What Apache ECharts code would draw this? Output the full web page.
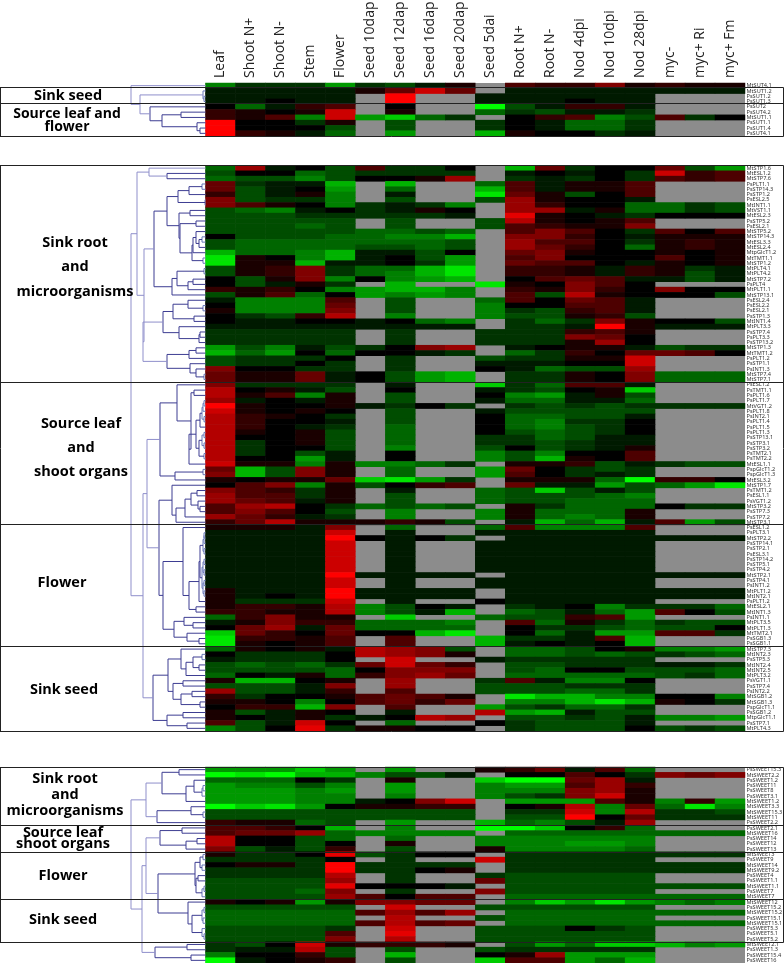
<!DOCTYPE html>
<html><head><meta charset="utf-8">
<style>html,body{margin:0;padding:0;background:#fff}#c{width:784px;height:963px}</style>
<script src="https://cdn.jsdelivr.net/npm/echarts@6/dist/echarts.min.js"></script>
</head><body><div id="c"></div>
<script>
const G = null;
const conditions = ['Leaf','Shoot N+','Shoot N-','Stem','Flower','Seed 10dap','Seed 12dap','Seed 16dap','Seed 20dap','Seed 5dai','Root N+','Root N-','Nod 4dpi','Nod 10dpi','Nod 28dpi','myc-','myc+ Ri','myc+ Fm'];

const sugarLabels = ['MtSUT4.1','MtSUT1.2','PsSUT1.2','PsSUT1.3','PsSUT2','PsSUT4.2','MtSUT1.1','PsSUT1.1','PsSUT1.4','PsSUT4.1'];
const sugarRows = [
[-5,-2,-2,-2,-6,-2,-3,-1,1,G,3,2,2,5,1,2,1,1],
[-1,-1,-1,-1,-1,1,4,8,4,G,-1,-1,-1,-1,-1,-1,-1,-1],
[-1,-1,-1,-1,-1,G,10,G,G,-1,-1,-1,-1,-1,-1,G,G,G],
[-1,-1,0,-1,-1,G,10,G,G,-1,-1,-1,0,-1,-1,G,G,G],
[0,-4,-1,2,3,G,0,G,G,-10,-3,-1,2,2,-1,G,G,G],
[2,1,0,1,8,G,1,G,G,-4,-2,-3,-1,-1,-2,G,G,G],
[2,1,3,-5,8,-6,-8,-4,-2,G,0,2,3,-5,-3,3,-2,0],
[10,0,0,-2,1,G,-3,G,G,-2,0,-1,-4,-4,-2,G,G,G],
[10,0,0,0,-3,G,-3,G,G,-2,0,-1,-4,-4,-2,G,G,G],
[10,2,1,-1,-4,G,-6,G,G,-7,1,0,0,-2,-1,G,G,G]
];

const mstLabels = ['MtSTP1.6','MtESL1.2','MtSTP7.6','PsPLT1.1','PsSTP14.3','PsSTP1.2','PsESL2.5','MtINT1.1','MtVST1.1','MtESL2.3','PsSTP5.2','PsESL2.1','MtSTP5.2','MtSTP14.3','MtESL3.3','MtESL2.4','MtpGlcT1.2','MtTMT1.1','MtSTP1.2','MtPLT4.1','MtPLT4.2','MtSTP7.2','PsPLT4','MtPLT1.1','MtSTP13.1','PsESL2.4','PsESL2.2','PsESL2.1','PsSTP1.3','MtINT1.4','MtPLT3.3','PsSTP7.4','PsPLT3.3','PsSTP13.2','MtSTP1.3','MtTMT1.2','PsPLT1.2','PsSTP1.1','PsINT1.3','MtSTP7.4','MtSTP7.1',
'PsESL1.2','PsTMT1.1','PsPLT1.6','PsPLT1.7','MtVGT1.2','PsPLT1.8','PsINT2.1','PsPLT1.4','PsPLT1.5','PsPLT1.3','PsSTP13.1','PsSTP3.1','PsSTP3.2','PsTMT2.1','PsTMT2.2','MtESL1.1','PspGlcT1.2','PspGlcT1.3','MtESL3.2','MtSTP1.7','PsTMT1.2','PsESL1.1','PsVGT1.2','MtSTP3.2','PsSTP7.3','PsSTP7.2','MtSTP3.1',
'PsESL1.2','PsPLT3.1','MtSTP2.2','PsSTP14.1','PsSTP2.1','PsESL3.1','PsSTP14.2','PsSTP5.1','PsSTP4.2','MtSTP2.1','PsSTP4.1','PsINT1.2','MtPLT1.2','MtINT2.1','PsPLT1.2','MtESL2.1','MtINT1.3','PsINT1.1','MtPLT3.5','MtPLT1.3','MtTMT2.1','PsSGB1.3','PsSGB1.1',
'MtSTP7.3','MtINT2.3','PsSTP5.3','MtINT2.4','MtINT2.5','MtPLT3.2','PsVGT1.1','PsSTP7.4','PsINT2.2','MtSGB1.2','MtSGB1.3','PspGlcT1.1','PsSGB1.2','MtpGlcT1.1','PsSTP7.1','MtPLT4.3'];
const mstRows = [
[-4,6,-1,0,-3,3,-2,-2,0,G,-7,4,-2,0,0,4,-3,-6],
[-3,0,0,-4,-3,-2,-2,-2,-2,G,-1,0,-1,0,-2,8,2,3],
[-4,-3,-3,-5,-3,0,0,1,6,G,-2,-1,-2,0,-2,3,2,3],
[4,-2,-1,-1,-7,G,-7,G,G,-4,3,-1,1,1,3,G,G,G],
[4,-3,-1,0,-6,G,-4,G,G,-7,3,-1,1,1,3,G,G,G],
[2,-3,-1,1,-5,G,-1,G,G,-9,4,1,-3,0,3,G,G,G],
[5,-3,-2,-2,-5,G,-3,G,G,-3,6,1,0,0,-1,G,G,G],
[5,3,1,0,-5,-2,-1,-2,-5,G,6,2,0,0,-4,-4,-2,-3],
[-3,-4,-5,-1,0,-2,-1,1,0,G,6,6,-1,1,-4,-4,-2,-3],
[-3,-3,-3,-2,-2,-2,-2,-2,-1,G,9,1,0,-1,-2,0,0,0],
[-3,-3,-3,-3,-3,G,-3,G,G,-3,7,1,0,1,3,G,G,G],
[-3,-3,-3,-4,-3,G,-3,G,G,-3,3,2,1,1,5,G,G,G],
[-3,-3,-3,-3,-3,-4,-4,-3,-4,G,3,5,3,0,-2,3,0,3],
[0,-3,-3,-3,-4,-4,-5,-5,-7,G,5,5,2,0,-1,1,1,1],
[-3,-4,-4,-4,-4,-4,-4,-4,-3,G,6,3,3,0,-2,1,2,1],
[-3,-4,-4,-4,-4,-3,-3,-4,-3,G,6,4,2,0,-4,1,2,1],
[-7,-4,-4,-5,-7,-1,-1,-3,0,G,4,5,1,0,0,1,0,1],
[-9,1,0,-5,-7,-1,0,-3,-6,G,3,5,0,0,0,3,0,1],
[-9,1,1,-7,-1,-1,0,-2,-6,G,4,3,3,0,-1,1,0,1],
[-3,1,2,5,-2,-4,-4,-7,-9,G,2,2,1,-1,2,1,-2,-1],
[-3,1,2,5,-2,-4,-5,-7,-9,G,2,2,1,-1,2,1,-3,-1],
[0,-3,1,5,-5,0,-5,-6,-7,G,0,3,4,3,-1,-1,-3,-1],
[0,-3,-1,1,-2,G,-7,G,G,-9,1,0,5,3,0,G,G,G],
[2,1,2,0,-5,-6,-7,-7,-5,G,2,1,5,2,0,5,0,0],
[-3,1,3,-4,0,-6,-5,-6,-5,G,3,-3,7,1,0,0,0,-3],
[-1,-5,-5,-5,3,G,-3,G,G,-4,3,0,4,3,-1,G,G,G],
[0,-5,-5,-5,4,G,-3,G,G,-5,0,0,3,3,-1,G,G,G],
[1,-5,-5,-5,5,G,-3,G,G,-5,-2,-3,2,3,-1,G,G,G],
[0,-2,-3,2,7,G,-5,G,G,-5,-3,-3,1,2,-3,G,G,G],
[0,-1,-1,0,0,-1,0,-4,-5,G,-2,-4,-2,5,1,0,0,-3],
[-1,-1,-1,-1,-1,-1,-1,-1,-1,G,-2,-2,-1,10,1,-1,-1,-1],
[-2,-2,-2,-2,-2,G,-2,G,G,-2,-2,-2,2,3,1,G,G,G],
[-2,-2,-2,-2,-2,G,-2,G,G,-2,-2,-2,5,4,0,G,G,G],
[-2,-2,-2,-2,-2,G,-2,G,G,-2,-2,-2,1,6,0,G,G,G],
[-6,-3,-5,-1,-3,-2,0,5,6,G,-1,0,1,1,-1,-3,-2,-2],
[-7,-4,-6,0,-4,0,0,-1,-2,G,-4,-2,2,0,4,4,3,0],
[-3,-2,-2,-2,0,G,-2,G,G,-3,-2,-2,1,1,8,G,G,G],
[-3,-2,-2,0,-2,G,-2,G,G,-1,-1,-1,0,0,8,G,G,G],
[5,0,0,-2,-2,G,-2,G,G,0,-1,-4,-3,-3,6,G,G,G],
[4,1,1,4,-1,0,-3,-6,-7,G,-2,-2,1,0,5,-4,-4,-4],
[4,1,1,4,-1,0,-3,-6,-7,G,-2,-2,1,0,5,-4,-4,-4],
[5,-2,-2,-2,-2,G,-1,G,G,-8,-2,-4,3,3,-1,G,G,G],
[7,0,1,-1,-3,G,0,G,G,-1,-2,-3,0,1,-8,G,G,G],
[7,1,3,-5,1,G,-3,G,G,0,-5,-6,-1,1,-3,G,G,G],
[6,-1,0,-1,1,G,-3,G,G,-1,-4,-4,-1,-1,-4,G,G,G],
[10,1,0,0,1,-1,-2,0,-2,G,-2,-3,-2,-3,-2,-2,-2,-2],
[8,1,0,1,0,G,-3,G,G,-1,-3,-3,-3,-3,-3,G,G,G],
[7,2,1,0,-2,G,-3,G,G,0,-4,-4,-3,-3,-1,G,G,G],
[7,2,0,0,-1,G,-3,G,G,0,-4,-5,-2,-2,0,G,G,G],
[7,2,0,-1,-2,G,-4,G,G,0,-4,-5,-3,-2,0,G,G,G],
[7,1,0,1,-3,G,-4,G,G,0,-3,-4,-3,-2,0,G,G,G],
[7,0,0,1,-3,G,-4,G,G,-2,-2,-4,-3,-1,-1,G,G,G],
[7,-2,0,1,-3,G,-4,G,G,-2,-2,-3,-2,-1,-1,G,G,G],
[7,-2,0,0,-3,G,-5,G,G,-3,0,-3,-2,-1,1,G,G,G],
[7,-2,0,-3,-1,G,0,G,G,-5,-3,-5,0,0,3,G,G,G],
[7,0,0,-6,-1,G,0,G,G,-5,-3,-7,1,0,3,G,G,G],
[8,1,1,-5,1,-5,-5,-4,-2,G,1,1,2,-3,-1,-2,-3,-3],
[4,-7,-3,5,1,G,-4,G,G,-6,4,0,-2,-3,-2,G,G,G],
[5,-7,-3,5,1,G,-4,G,G,-6,3,0,-2,-1,-2,G,G,G],
[1,0,1,1,4,-8,-9,-6,-2,G,1,1,1,-4,-10,2,2,0],
[0,3,5,-5,1,-3,0,2,3,G,4,-1,-1,-6,-3,-4,-6,-9],
[5,3,2,-2,1,G,-1,G,G,-4,-3,-8,-3,-1,-3,G,G,G],
[6,3,3,-2,1,G,-3,G,G,-4,-3,-3,-3,-4,-5,G,G,G],
[6,4,3,-1,1,G,-3,G,G,-4,-3,-3,-4,-4,-4,G,G,G],
[3,6,7,0,-2,-4,-3,-4,-3,G,1,-2,-4,-4,-4,0,-2,-2],
[3,5,3,0,-3,G,-5,G,G,-5,1,-4,-4,-4,1,G,G,G],
[6,4,2,-1,-2,G,-5,G,G,-5,1,-4,-5,-4,1,G,G,G],
[2,4,7,1,1,1,2,1,-3,G,-1,-7,-4,-7,-1,3,-6,-3],
[1,1,1,-1,5,G,-4,G,G,-4,3,-5,-5,-5,3,G,G,G],
[-1,-1,-1,-1,8,G,-1,G,G,-1,-1,-1,-1,-1,-1,G,G,G],
[-1,-1,-1,-1,10,0,-1,0,-2,G,-1,-1,-1,-1,-1,-1,-1,-1],
[-1,-1,-1,-1,8,G,-1,G,G,-1,-1,-1,-1,-1,-1,G,G,G],
[-1,-1,-1,-1,8,G,-1,G,G,-1,-1,-1,-1,-1,-1,G,G,G],
[-1,-1,-1,-1,8,G,-1,G,G,-1,-1,-1,-1,-1,-1,G,G,G],
[-1,-1,-1,-1,8,G,-1,G,G,-1,-1,-1,-1,-1,-1,G,G,G],
[-1,-1,-1,-1,8,G,-1,G,G,-1,-1,-1,-1,-1,-1,G,G,G],
[-1,-1,-1,-1,8,G,-1,G,G,-1,-1,-1,-1,-1,-1,G,G,G],
[-1,-1,-1,-1,10,-1,-1,-1,-1,G,-1,-1,-1,-1,-1,-1,-1,-1],
[-1,-1,-1,-1,8,G,-1,G,G,-1,-1,-1,-1,-1,-1,G,G,G],
[-1,-1,-1,-1,8,G,-1,G,G,-1,-1,-1,-1,-1,-1,G,G,G],
[1,-1,-1,-1,10,-1,-1,-1,-1,G,-1,-1,-1,-1,-1,-1,-1,-1],
[1,-1,0,-1,10,-1,-1,-1,-1,G,-1,-1,-1,-1,-1,-1,-1,-1],
[1,-2,-2,-2,8,G,-1,G,G,0,-1,-1,-1,-1,-1,G,G,G],
[1,2,2,1,7,-5,-3,0,-1,G,-2,-1,0,-5,-2,-2,-2,-4],
[2,2,1,1,7,-5,-3,-1,-7,G,-4,-3,-1,-4,-6,3,0,-3],
[-4,2,5,1,1,G,-8,G,G,-4,-3,-3,2,3,-6,G,G,G],
[-1,1,5,2,2,-4,-4,-4,-5,G,3,-4,1,-2,-4,-2,-3,-3],
[0,4,6,-1,4,-4,-4,-4,-4,G,0,-2,-2,-3,-4,-3,-3,0],
[-8,4,2,0,4,0,0,-7,-9,G,0,-4,-1,-6,-6,3,3,-2],
[-9,2,2,1,3,G,3,G,G,-7,-2,-2,-1,3,-7,G,G,G],
[-9,1,0,1,3,G,3,G,G,-7,-1,0,-1,0,-7,G,G,G],
[-4,1,0,1,-1,7,6,5,-3,G,-4,-4,-3,0,1,-5,-5,-6],
[0,-2,-2,-2,0,7,6,5,1,G,-4,-4,-3,-4,-3,-2,-3,-4],
[-1,-2,-2,-2,0,G,8,G,G,-1,-2,-2,-2,-2,-2,G,G,G],
[-3,-4,-3,-4,-2,4,8,4,2,G,-3,-3,-2,-2,-2,-1,-1,-2],
[-3,-3,-3,-3,-4,0,5,5,5,G,-3,-4,0,0,-3,-3,-3,-4],
[-4,0,-1,1,-4,2,5,6,4,G,-4,-4,-4,-4,-4,-3,-2,-4],
[1,-7,-7,0,1,G,6,G,G,-2,3,-1,-5,-5,0,G,G,G],
[-3,-3,-3,-1,5,G,6,G,G,-3,-3,-3,-2,-2,-2,G,G,G],
[6,-3,-3,-1,2,G,3,G,G,-3,-3,-3,-4,-4,-2,G,G,G],
[2,-2,0,0,1,3,4,3,1,G,-9,-7,-7,-5,-5,0,0,-5],
[1,1,0,-5,0,3,4,2,4,G,-5,-5,-7,-9,-7,1,0,-2],
[0,2,2,-7,5,G,3,G,G,-6,-3,-2,-4,-4,-2,G,G,G],
[1,-3,-1,1,0,G,-1,G,G,7,-6,-7,-1,-3,-3,G,G,G],
[1,0,-1,1,-2,-1,0,7,6,G,-3,-3,-2,-3,-1,-5,-5,-6],
[3,-3,-1,8,0,G,-4,G,G,0,-2,-3,-3,-3,-1,G,G,G],
[-5,-3,0,9,-2,1,1,0,0,G,-2,-3,-3,-3,0,-3,-2,-3]
];

const sweetLabels = ['PsSWEET15.3','MtSWEET2.2','PsSWEET1.2','PsSWEET11','PsSWEET8','PsSWEET3.1','MtSWEET1.2','MtSWEET3.3','MtSWEET15.3','MtSWEET11','PsSWEET2.2','PsSWEET2.1','MtSWEET16','PsSWEET14','PsSWEET12','PsSWEET13','MtSWEET3','PsSWEET9','MtSWEET14','MtSWEET9.2','PsSWEET4','PsSWEET1.1','MtSWEET1.1','PsSWEET7','MtSWEET7','MtSWEET12','PsSWEET15.2','MtSWEET15.2','PsSWEET15.1','MtSWEET15.1','PsSWEET5.3','PsSWEET5.1','PsSWEET5.2','MtSWEET2.1','PsSWEET1.3','PsSWEET15.4','PsSWEET16'];
const sweetRows = [
[-6,-6,-6,-8,-6,G,-6,G,G,1,2,4,-1,3,-4,G,G,G],
[-10,-9,-10,-7,-7,-5,-3,-3,-1,G,0,0,3,0,-2,5,4,5],
[-4,-4,-4,0,-2,G,1,G,G,-8,-10,-10,4,6,-1,G,G,G],
[-6,-5,-5,-3,-5,G,-6,G,G,-5,-6,-6,3,6,2,G,G,G],
[-6,-6,-6,-5,-6,G,-6,G,G,-5,-5,-5,5,6,1,G,G,G],
[-6,-6,-6,-5,-5,G,-5,G,G,-5,-3,-2,5,8,1,G,G,G],
[-6,-6,-6,-5,-5,-1,0,5,8,G,-6,-6,-6,3,1,-5,2,-6],
[-10,-8,-9,-6,0,1,1,2,2,G,0,1,7,-5,4,-4,-9,-5],
[-3,-3,-3,-3,-3,-3,-3,-3,-3,G,-2,-2,8,-5,7,-2,-2,-3],
[-3,-3,-3,-3,-3,-3,-3,-3,-3,G,-3,-3,10,0,4,-2,-2,-2],
[2,1,1,-4,-3,G,-6,G,G,-7,-4,-5,-3,-1,6,G,G,G],
[3,3,2,0,-7,G,-5,G,G,-10,-10,-8,0,2,-4,G,G,G],
[3,4,4,6,-4,-5,-5,-5,-5,G,-4,-4,-4,-4,-4,-4,-4,-4],
[7,0,0,-3,-4,G,-4,G,G,-5,-5,-5,-5,-5,-5,G,G,G],
[7,0,0,-3,0,G,1,G,G,-5,-5,-5,-6,-6,-5,G,G,G],
[5,-3,-1,-3,2,G,-3,G,G,1,-5,-5,-5,-5,-4,G,G,G],
[1,-2,-2,0,9,-3,-2,0,0,G,-2,-2,-2,-2,-2,-2,-2,-2],
[-2,-2,-2,-2,0,G,-2,G,G,8,-2,-2,-2,-2,-2,G,G,G],
[0,1,1,-2,10,-2,-2,-2,-2,G,-2,-2,-2,-2,-2,-2,-2,-2],
[-2,-2,-2,-2,10,-2,-2,0,1,G,-2,-2,-2,-2,-2,-2,-2,-2],
[-2,-2,-2,-2,7,G,-2,G,G,-2,-3,-3,-3,-3,-3,G,G,G],
[-3,-3,-3,-3,6,G,-2,G,G,4,-3,-3,-3,-3,-3,G,G,G],
[-3,-3,-3,-3,9,0,0,0,-1,G,-3,-3,-3,-3,-3,-3,-3,-3],
[-3,-3,-3,-4,5,G,-2,G,G,5,-3,-3,-3,-3,-3,G,G,G],
[-3,-3,-3,-3,6,3,0,3,3,G,-4,-4,-4,-4,-4,-4,-4,-4],
[1,0,1,-6,1,5,5,4,4,G,-5,-8,-6,-9,-6,-5,-4,-5],
[-3,-3,-3,-3,-3,G,8,G,G,-3,-3,-3,-3,-3,-3,G,G,G],
[-4,-4,-4,-4,-4,3,6,3,6,G,-4,-4,-4,-4,-4,-4,-4,-4],
[-4,-4,-4,-4,-4,G,7,G,G,-3,-4,-4,-4,-4,-4,G,G,G],
[-4,-4,-4,-4,-4,3,7,3,4,G,-4,-4,-4,-4,-4,-4,-4,-4],
[-3,-3,-3,-3,-2,G,8,G,G,-3,-3,-3,0,-2,-3,G,G,G],
[-3,-3,-3,-3,3,G,9,G,G,-3,-3,-3,-3,-3,-3,G,G,G],
[-3,-3,-3,-3,5,G,7,G,G,-3,-3,-3,-3,-3,-3,G,G,G],
[-2,-3,0,8,1,2,2,2,1,G,-3,-6,-4,-8,-8,-7,-5,-6],
[-2,-1,-1,7,-3,G,-3,G,G,-3,-2,-2,-2,-2,-2,G,G,G],
[-5,0,0,2,-3,G,-7,G,G,0,1,6,-6,-6,-6,G,G,G],
[-10,-1,0,1,2,G,-3,G,G,-8,3,3,-6,-4,-7,G,G,G]
];

// Dendrogram merges: [name, height position, child, child]; a number is a row, a string an earlier merge
const sugarTree = [
['a',204,2,3],['b',203,1,'a'],['c',200,8,9],['d',197,7,'c'],['e',181,5,6],['f',162,'e','d'],['g',150,4,'f'],['h',140,'b','g'],['root',131,0,'h']
];
const mstTree = [
['a1',167,1,2],['a2',149,0,'a1'],
['b1',202,3,4],['b2',189,'b1',5],['b3',205,6,7],['b4',178,'b2','b3'],
['c1',190,8,9],['c2',196,10,11],['d1',202,13,14],['d2',199,'d1',15],['d3',196,12,'d2'],['d5',193,'d3',16],['d4',203,17,18],['d6',192,'d5','d4'],['c3',180,'c2','d6'],['c4',179,'c1','c3'],['b5',167,'b4','c4'],
['e1',204,19,20],['e2',193,21,22],['e3',188,'e2',23],['e4',177,'e1','e3'],['e5',172,'e4',24],['A',154,'b5','e5'],
['f1',203,26,27],['f2',188,25,'f1'],['f3',194,28,29],['f4',173,'f2','f3'],['g2',200,31,32],['g3',199,'g2',33],['g4',179,30,'g3'],['f5',163,'f4','g4'],
['h1',196,34,35],['h2',189,'h1',36],['h4',204,39,40],['h5',196,38,'h4'],['h6',190,37,'h5'],['h7',167,'h2','h6'],['P',143,'f5','h7'],['D',144,'A','P'],['Top',137,'a2','D'],
['i1',194,42,43],['j1',204,44,45],['j2',203,'j1',46],['j3',204,47,48],['j4',202,'j2','j3'],['j5',200,'j4',49],['j6',204,50,51],['j7',204,52,53],['j8',202,'j6','j7'],['j9',204,54,55],['j10',199,'j8','j9'],['j11',196,'j5','j10'],['j12',189,'j11',56],['j13',191,'i1','j12'],['j14',177,41,'j13'],
['k1',203,57,58],['k2',175,'k1',59],['l',160,'j14','k2'],
['n1',197,61,62],['n2',200,64,65],['n3',198,63,'n2'],['n4',191,'n1','n3'],['n6',185,'n4',66],['m2',176,'n6',67],['m3',172,60,'m2'],
['q1',204,69,70],['q2',204,'q1',71],['q3',204,72,73],['q4',203,'q2','q3'],['q5',204,74,75],['q6',204,76,77],['q7',203,'q5','q6'],['q8',204,78,79],['q9',204,80,81],['q10',203,'q8','q9'],['q11',202,'q7','q10'],['q12',200,'q4','q11'],['q13',199,'q12',82],['q14',196,83,84],['q15',189,'q13','q14'],['q16',183,68,'q15'],
['r1',193,86,87],['r2',184,85,'r1'],['r3',199,89,90],['r4',187,88,'r3'],['r5',174,'r2','r4'],['s',163,'q16','r5'],['x',159,'m3','s'],['y',147,'l','x'],
['t1',202,92,93],['t3',199,94,95],['t4',193,'t1','t3'],['t6',186,'t4',96],['t5',181,91,'t6'],['u1',183,97,98],['u2',192,99,100],['u3',200,101,102],['u4',181,'u2','u3'],['u5',173,'u1','u4'],['u6',168,'t5','u5'],
['v1',183,103,104],['v2',187,105,106],['v3',167,'v1','v2'],['w',153,'u6','v3'],['z',143,'y','w'],['root',131,'Top','z']
];
const sweetTree = [
['a',179,0,1],['b',203,3,4],['b2',202,'b',5],['c',194,2,'b2'],['d',186,'c',6],['e',162,'a','d'],['g',203,8,9],['f',191,7,'g'],['h',157,'f',10],['i',146,'e','h'],
['j',182,11,12],['k',197,13,14],['l',186,'k',15],['m',160,'j','l'],
['o1',203,16,17],['o2',202,18,19],['o3',200,'o1','o2'],['o4',204,22,23],['o5',202,'o4',24],['o6',198,20,21],['o7',196,'o6','o5'],['o8',195,'o3','o7'],
['p1',204,26,27],['p2',203,28,29],['p3',202,'p1','p2'],['p4',204,31,32],['p5',202,30,'p4'],['p6',192,'p3','p5'],['p7',188,25,'p6'],['q',158,'o8','p7'],['n',146,'m','q'],
['t1',187,33,34],['t2',191,35,36],['t',155,'t1','t2'],['s',142,'n','t'],['root',131,'i','s']
];

const groupLabels = [
 ['Sink seed'],['Source leaf and','flower'],
 ['Sink root','and','microorganisms'],['Source leaf','and','shoot organs'],['Flower'],['Sink seed'],
 ['Sink root','and','microorganisms'],['Source leaf','shoot organs'],['Flower'],['Sink seed']
];

const HEAT_LEFT = 205.5, HEAT_W = 539.5;
const panels = [
 {rows: sugarRows, labels: sugarLabels, tree: sugarTree, top: 83, h: 53},
 {rows: mstRows, labels: mstLabels, tree: mstTree, top: 165.5, h: 565.5},
 {rows: sweetRows, labels: sweetLabels, tree: sweetTree, top: 767, h: 196}
];

function links(tree) {
  const nodes = {};
  const at = c => typeof c === 'number' ? {x: HEAT_LEFT, y: c + 0.5} : nodes[c];
  return tree.map(([name, x, a, b]) => {
    const A = at(a), B = at(b);
    nodes[name] = {x, y: (A.y + B.y) / 2};
    return [x, A.y, B.y, A.x, B.x];
  });
}

const grid = [], xAxis = [], yAxis = [], series = [];
panels.forEach((p, i) => {
  const n = p.rows.length;
  grid.push({left: HEAT_LEFT, width: HEAT_W, top: p.top, height: p.h, show: true, backgroundColor: '#8c8c8c', borderWidth: 0, containLabel: false, outerBoundsMode: 'none'});
  xAxis.push({type: 'category', gridIndex: 2 * i, data: conditions, position: 'top', show: i === 0,
    axisLine: {show: false}, axisTick: {show: false}, splitLine: {show: false},
    axisLabel: {rotate: -90, interval: 0, margin: 5, fontSize: 14, color: '#222', fontFamily: '"Open Sans", sans-serif'}});
  yAxis.push({type: 'category', gridIndex: 2 * i, data: p.labels, inverse: true, position: 'right',
    axisLine: {show: false}, axisTick: {show: false}, splitLine: {show: false},
    axisLabel: {interval: 0, margin: 1.5, fontSize: 5.6, color: '#333', fontFamily: '"Noto Sans", sans-serif'}});
  const cells = [];
  p.rows.forEach((row, r) => row.forEach((v, c) => { if (v !== G) cells.push([c, r, v]); }));
  series.push({type: 'heatmap', xAxisIndex: 2 * i, yAxisIndex: 2 * i, data: cells, progressive: 0,
    itemStyle: {borderWidth: 0}, emphasis: {disabled: true}, animation: false});
  grid.push({left: 0, width: HEAT_LEFT, top: p.top, height: p.h, outerBoundsMode: 'none'});
  xAxis.push({type: 'value', gridIndex: 2 * i + 1, min: 0, max: HEAT_LEFT, show: false});
  yAxis.push({type: 'value', gridIndex: 2 * i + 1, min: 0, max: n, inverse: true, show: false});
  series.push({type: 'custom', xAxisIndex: 2 * i + 1, yAxisIndex: 2 * i + 1, data: links(p.tree), encode: {x: 0, y: 1},
    clip: false, animation: false, silent: true,
    renderItem: (params, api) => {
      const x = api.value(0), yA = api.value(1), yB = api.value(2), xA = api.value(3), xB = api.value(4);
      const pts = [[xA, yA], [x, yA], [x, yB], [xB, yB]].map(q => api.coord(q));
      return {type: 'polyline', shape: {points: pts},
        style: {fill: null, stroke: x < 150 ? '#8f8fcb' : x >= 202 ? '#6878b8' : '#3d3d92', lineWidth: 1}};
    }});
});

const bold = '"Open Sans", sans-serif';
const graphics = [];
const hline = (y) => graphics.push({type: 'line', shape: {x1: 0, y1: y, x2: 783.5, y2: y}, style: {stroke: '#222', lineWidth: 1}, z: 20, silent: true});
const vline = (x, y1, y2) => graphics.push({type: 'line', shape: {x1: x, y1, x2: x, y2}, style: {stroke: '#222', lineWidth: 1}, z: 20, silent: true});
[87.5, 103.5, 136.5].forEach(hline); vline(.5, 87.5, 136.5); vline(783.5, 87.5, 136.5);
[165.5, 382.5, 524.5, 646.5, 731.5].forEach(hline); vline(.5, 165.5, 731.5); vline(783.5, 165.5, 731.5);
[767.5, 825.5, 852.5, 899.5, 942.5].forEach(hline); vline(.5, 767.5, 942.5); vline(783.5, 767.5, 942.5);

const placed = [
 {x: 68, ys: [95.5], s: 14.5},
 {x: 67, ys: [114.5, 127], s: 14},
 {x: 75, ys: [243, 267, 292], s: 14.5},
 {x: 81, ys: [424, 448, 472], s: 14.5},
 {x: 62, ys: [583], s: 14.5},
 {x: 64, ys: [690], s: 14.5},
 {x: 65, ys: [779, 795, 810.5], s: 14.5},
 {x: 63, ys: [832.5, 844], s: 14.5},
 {x: 63, ys: [876], s: 14.5},
 {x: 63, ys: [920], s: 14.5}
];
groupLabels.forEach((lines, i) => lines.forEach((t, j) => graphics.push({type: 'text', x: placed[i].x, y: placed[i].ys[j], z: 21, silent: true,
  style: {text: t, textAlign: 'center', textVerticalAlign: 'middle', font: `bold ${placed[i].s}px ${bold}`, fill: '#000'}})));

const chart = echarts.init(document.getElementById('c'), null, {renderer: 'canvas'});
chart.setOption({
  animation: false, backgroundColor: '#fff', tooltip: {show: false},
  grid, xAxis, yAxis, series, graphic: graphics,
  visualMap: {show: false, min: -10, max: 10, seriesIndex: [0, 2, 4], inRange: {color: ['#00ff00', '#000000', '#ff0000']}}
});
</script></body></html>
